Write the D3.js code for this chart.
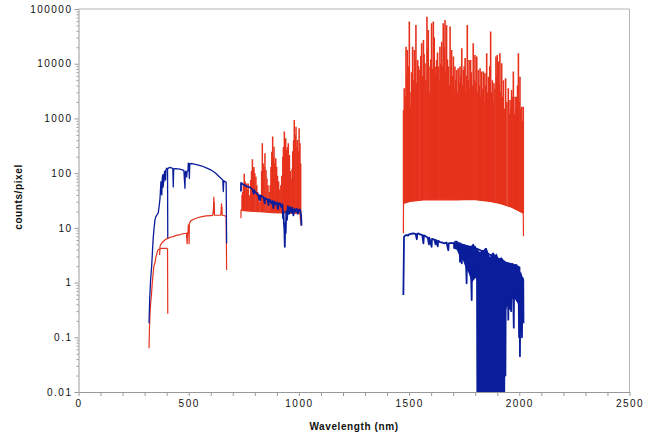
<!DOCTYPE html>
<html>
<head>
<meta charset="utf-8">
<script src="https://cdn.jsdelivr.net/npm/d3@7"></script>
<style>
  body { margin: 0; background: #fff; }
  text { font-family: "Liberation Sans", Arial, sans-serif; fill: #111; }
</style>
</head>
<body>
<svg id="plot" width="656" height="436"></svg>
<script>
// axis ticks
const xTicks = [0, 500, 1000, 1500, 2000, 2500];
const yTicks = [0.01, 0.1, 1, 10, 100, 1000, 10000, 100000];
const yTickLabels = ['0.01', '0.1', '1', '10', '100', '1000', '10000', '100000'];

// [wavelength nm, counts/pixel]
// blue (sky) spectrum
const blueUv = [[320, 0.18], [323, 0.5], [327, 1.1], [332, 2], [336, 4], [339, 6.5], [343, 10], [347, 14],
  [351, 16], [355, 17], [359, 18], [362, 19], [366, 25], [370, 35], [372, 50], [374, 70], [376, 45],
  [378, 40], [380, 80], [382, 93], [383, 55], [385, 61], [387, 95], [388, 70], [390, 107], [392, 85],
  [393, 110], [395, 75], [397, 115], [399, 118], [400, 123], [402, 122], [404, 120], [405, 6.5]];
const blueVis = [[405, 120], [410, 125], [415, 127], [420, 125], [428, 122], [430, 56], [432, 120],
  [440, 121], [450, 120], [460, 118], [470, 115], [478, 112], [483, 53], [485, 108], [490, 105],
  [491, 85], [493, 108], [497, 112], [498, 152], [501, 150], [503, 80], [505, 148], [510, 150],
  [520, 148], [540, 142], [560, 135], [580, 125], [600, 115], [620, 102], [640, 85], [650, 78],
  [655, 74], [657, 46], [659, 72], [665, 70], [670, 68], [672, 5.2]];
const blueNir = [[737, 46], [737.5, 66], [745, 63], [760, 58], [770, 56], [778, 55], [790, 50], [795, 42],
  [797, 49], [800, 46], [810, 42], [816, 40], [820, 33], [822, 39], [824, 32], [826, 39], [835, 37],
  [840, 36], [845, 28], [847, 35], [850, 34], [858, 33], [862, 26], [864, 33], [869, 32], [875, 28],
  [880, 31], [884, 23], [888, 30], [895, 27], [900, 29], [905, 22], [908, 28], [914, 28], [920, 24],
  [925, 27], [928, 15], [930, 20], [932, 12], [934, 9.5], [936, 4.5], [938, 12], [940, 8], [943, 20],
  [946, 14], [950, 25], [955, 18], [960, 24], [965, 19], [970, 23.5], [975, 17], [980, 22], [985, 20],
  [990, 22.5], [995, 18], [1000, 21.5], [1005, 21.5], [1008, 19], [1010, 17], [1012, 11]];
const blueSwir = [[1474, 0.59], [1476, 3], [1477, 6.9], [1482, 7.2], [1489, 7.4], [1495, 7.2], [1500, 7.6],
  [1510, 7.8], [1520, 7.9], [1530, 7.7], [1535, 6.2], [1537, 7.8], [1542, 7.9], [1550, 7.6], [1560, 7.4],
  [1565, 5.2], [1567, 7.3], [1575, 7], [1585, 6.6], [1590, 5], [1592, 6.6], [1602, 4.5], [1604, 6.3],
  [1615, 6.1], [1620, 5], [1622, 6], [1625, 5.8], [1630, 4.6], [1632, 5.8], [1640, 5.5], [1650, 5.4],
  [1660, 5.2], [1670, 5.4], [1678, 3.9], [1680, 5.2], [1690, 5.3], [1700, 5.2], [1710, 5.6], [1716, 5.6],
  [1722, 5.3], [1727, 3.5], [1729, 5.2], [1731, 2.4], [1733, 5.2], [1739, 2.25], [1741, 5], [1746, 3.2],
  [1748, 4.9], [1750, 4.9], [1754, 3], [1756, 4.8], [1761, 0.97], [1763, 4.7], [1770, 4.6], [1775, 2],
  [1778, 4.6], [1784, 0.48], [1786, 4.6], [1791, 4.9], [1795, 1.5], [1797, 4.6], [1799, 4.5], [1803, 2],
  [1805, 4.2], [1806, 4.2], [1935, 2.4], [1937, 0.02], [1939, 2.3], [1942, 1.2], [1944, 2.3], [1945, 0.5],
  [1947, 2.3], [1950, 0.21], [1952, 2.25], [1955, 0.6], [1957, 2.25], [1958, 0.33], [1960, 2.2],
  [1963, 0.3], [1965, 2.2], [1968, 0.8], [1970, 2.2], [1975, 0.15], [1977, 2.1], [1979, 0.6], [1981, 2.1],
  [1985, 0.8], [1987, 2.1], [1990, 2], [1993, 0.5], [1996, 1.95], [1999, 0.1], [2001, 1.9], [2003, 0.045],
  [2005, 1.5], [2008, 1.4], [2009, 0.3], [2011, 1.3], [2012, 0.1], [2014, 0.4], [2016, 1.2], [2018, 1.1],
  [2019, 0.18]];
// densely absorbed part: [nm, upper, lower]; the water band runs off the axis
const blueSwirFill = [[1700, 5.2, 4.2], [1716, 5.6, 4], [1730, 5.3, 3], [1745, 5, 2.5], [1758, 4.8, 1.8],
  [1770, 4.6, 1.5], [1785, 4.6, 1], [1800, 4.5, 1.2], [1804, 4.3, 1.2], [1806, 4.2, 0.001],
  [1814, 3.9, 0.001], [1822, 3.6, 0.001], [1830, 4, 0.001], [1837, 3.9, 0.001], [1845, 4.3, 0.001],
  [1852, 4.3, 0.001], [1860, 3.5, 0.001], [1867, 2.9, 0.001], [1875, 3.4, 0.001], [1882, 3.6, 0.001],
  [1890, 3.2, 0.001], [1897, 3.4, 0.001], [1905, 2.8, 0.001], [1912, 2.8, 0.001], [1920, 2.9, 0.001],
  [1928, 2.6, 0.001], [1935, 2.4, 0.001], [1937, 2.4, 0.3], [1950, 2.25, 0.4], [1965, 2.2, 0.5],
  [1980, 2.1, 0.5], [1995, 1.95, 0.4], [2005, 1.5, 0.5], [2018, 1.1, 0.4]];

// red (lamp) spectrum
const redUv = [[320, 0.063], [322, 0.15], [325, 0.3], [328, 0.45], [331, 0.6], [334, 0.9], [338, 1.4],
  [342, 2], [347, 2.3], [351, 2.9], [355, 3.3], [359, 3.8], [362, 4], [368, 4.1], [377, 4.2], [390, 4.2],
  [400, 4.2], [404, 4.1], [405, 0.27]];
const redVis = [[368, 3.2], [370, 4.6], [374, 5], [380, 5.4], [392, 6], [400, 6.3], [408, 6.5], [420, 6.8],
  [430, 6.9], [440, 7.2], [460, 7.5], [475, 7.8], [490, 8], [493, 5], [495, 8.1], [497, 8.2], [498, 11],
  [500, 11.5], [502, 5], [503, 12], [510, 13.5], [525, 14.5], [540, 15.3], [560, 16], [580, 16.5],
  [600, 16.7], [608, 16.8], [611, 19], [613, 25], [614, 37], [615, 18], [616, 30], [617, 17], [645, 17],
  [647, 20], [649, 28], [650, 18], [651, 24], [652, 17], [660, 16.8], [670, 16.2], [672, 1.7]];
const redNirBase = [[737, 15], [737.5, 21], [760, 20.5], [800, 20], [840, 19.5], [880, 19], [920, 18.8],
  [960, 18.6], [1005, 18.5], [1010, 11]];
const redNirLines = [[742, 40], [745, 45], [748, 60], [752, 97], [756, 70], [760, 55], [763, 65], [767, 50],
  [770, 65], [774, 40], [778, 35], [781, 75], [785, 110], [789, 180], [793, 120], [796, 130], [800, 100],
  [805, 86], [809, 60], [813, 45], [818, 35], [823, 30], [828, 40], [831, 110], [834, 350], [838, 150],
  [842, 130], [846, 230], [851, 114], [855, 80], [860, 60], [865, 45], [870, 60], [873, 130], [877, 247],
  [881, 465], [884, 200], [887, 305], [891, 150], [895, 187], [899, 131], [903, 90], [908, 70], [913, 50],
  [918, 60], [922, 90], [927, 200], [930, 300], [934, 574], [937, 350], [940, 434], [944, 265], [948, 300],
  [952, 351], [957, 215], [961, 110], [965, 80], [969, 120], [972, 250], [976, 400], [979, 940], [983, 500],
  [987, 708], [991, 300], [994, 404], [998, 250], [1001, 660], [1005, 351], [1008, 150]];
const redSwirBase = [[1474, 8], [1474.5, 28], [1504, 30.5], [1565, 32.5], [1640, 32.5], [1716, 32.5],
  [1790, 33], [1867, 30.5], [1912, 28], [1958, 24.5], [1988, 21.4], [2018, 18.6], [2019, 7]];
const redSwirLines = [[1475, 1430], [1478, 3550], [1482, 2500], [1486, 20500], [1489, 6000], [1492, 17900],
  [1495, 4000], [1498, 9000], [1501, 59000], [1504, 3000], [1507, 1640], [1511, 7000], [1516, 20500],
  [1520, 5000], [1524, 17900], [1527, 12000], [1531, 51000], [1535, 4500], [1539, 11700], [1543, 9000],
  [1549, 7700], [1553, 14000], [1557, 23700], [1561, 6000], [1565, 27000], [1568, 15000], [1572, 10200],
  [1576, 5000], [1581, 72000], [1584, 20000], [1587, 41500], [1591, 3000], [1595, 8850], [1598, 12000],
  [1602, 55000], [1606, 8000], [1610, 59000], [1614, 30000], [1618, 8850], [1621, 6000], [1625, 11700],
  [1629, 16000], [1633, 8850], [1636, 5000], [1640, 20500], [1644, 10000], [1648, 25300], [1651, 9000],
  [1655, 55000], [1659, 20000], [1663, 63000], [1666, 7000], [1670, 51000], [1674, 12000], [1678, 8850],
  [1682, 4000], [1686, 48000], [1689, 9000], [1693, 17900], [1697, 6000], [1701, 13600], [1704, 3500],
  [1708, 8850], [1712, 5000], [1716, 7700], [1719, 3000], [1723, 8260], [1727, 4500], [1731, 8850],
  [1734, 6000], [1739, 19100], [1742, 4000], [1746, 7700], [1750, 9000], [1754, 12700], [1757, 3000],
  [1761, 6000], [1764, 51000], [1768, 5000], [1772, 11700], [1775, 3500], [1779, 11700], [1783, 7000],
  [1787, 4000], [1791, 23700], [1795, 5000], [1799, 14500], [1803, 4500], [1807, 13600], [1810, 3000],
  [1814, 7700], [1818, 4000], [1822, 8260], [1825, 2500], [1829, 7180], [1833, 3500], [1837, 7180],
  [1840, 2000], [1844, 6700], [1848, 4000], [1852, 15600], [1855, 3000], [1860, 5800], [1863, 2500],
  [1866, 9000], [1870, 38600], [1874, 3000], [1878, 5000], [1881, 2000], [1885, 4380], [1889, 3500],
  [1894, 13600], [1897, 6000], [1900, 14500], [1905, 11000], [1908, 4000], [1912, 15600], [1916, 3000],
  [1920, 10200], [1923, 2500], [1928, 5000], [1933, 1500], [1938, 5400], [1944, 2000], [1950, 3550],
  [1954, 1200], [1958, 2180], [1961, 1500], [1965, 3300], [1969, 2500], [1973, 7180], [1977, 1200],
  [1981, 2500], [1984, 1500], [1988, 2500], [1992, 4000], [1996, 15600], [1999, 2000], [2003, 5800],
  [2007, 1500], [2011, 1640], [2014, 900], [2018, 1640]];

const blue = '#0a1e9c';
const red = '#e6321c';

main();

function main () {
  const svg = d3.select('svg#plot');
  const x = d3.scaleLinear().domain([0, 2500]).range([78.5, 629.5]);
  const y = d3.scaleLog().domain([0.01, 100000]).range([392, 9]);

  drawAxes(svg, x, y);

  svg.append('clipPath').attr('id', 'clip')
    .append('rect')
    .attr('x', x(0)).attr('y', y(100000))
    .attr('width', x(2500) - x(0)).attr('height', y(0.01) - y(100000));
  const g = svg.append('g').attr('clip-path', 'url(#clip)');

  const line = d3.line().x(d => x(d[0])).y(d => y(d[1]));

  // red first, blue drawn over it
  drawSpikes(g, x, y, redNirBase, redNirLines, 1.5);
  drawSpikes(g, x, y, redSwirBase, redSwirLines, 1.6);
  [redUv, redVis, redNirBase, redSwirBase].forEach(s => {
    g.append('path').attr('d', line(s))
      .attr('fill', 'none').attr('stroke', red).attr('stroke-width', 1.2);
  });

  const band = d3.area().x(d => x(d[0])).y0(d => y(d[2])).y1(d => y(d[1]));
  g.append('path').attr('d', band(blueSwirFill)).attr('fill', blue);
  [blueUv, blueVis].forEach(s => {
    g.append('path').attr('d', line(s))
      .attr('fill', 'none').attr('stroke', blue).attr('stroke-width', 1.3)
      .attr('stroke-linejoin', 'round');
  });
  [blueNir, blueSwir].forEach(s => {
    g.append('path').attr('d', line(s))
      .attr('fill', 'none').attr('stroke', blue).attr('stroke-width', 1.8)
      .attr('stroke-linejoin', 'round');
  });
}

// emission lines standing on a continuum
function drawSpikes (g, x, y, base, lines, width) {
  const baseAt = d3.scaleLinear().domain(base.map(d => d[0])).range(base.map(d => d[1]));
  lines.forEach(d => {
    g.append('line')
      .attr('x1', x(d[0])).attr('x2', x(d[0]))
      .attr('y1', y(baseAt(d[0]))).attr('y2', y(d[1]))
      .attr('stroke', red).attr('stroke-width', width);
  });
}

function drawAxes (svg, x, y) {
  const x0 = x(0), x1 = x(2500), y0 = y(0.01), y1 = y(100000);
  // frame (top and right)
  svg.append('path')
    .attr('d', `M${x0},${y1}H${x1}V${y0}`)
    .attr('fill', 'none').attr('stroke', '#b4b4b4').attr('stroke-width', 1);

  const xAxis = svg.append('g').attr('transform', `translate(0,${y0})`)
    .call(d3.axisBottom(x).tickValues(d3.range(0, 2501, 100)).tickSize(4).tickSizeOuter(0)
      .tickFormat(d => xTicks.includes(d) ? d : ''));
  xAxis.select('.domain').attr('stroke', '#999');
  xAxis.selectAll('.tick line').attr('stroke', '#999');
  xAxis.selectAll('.tick text').attr('y', 15).attr('dy', 0)
    .style('font-size', '10px').style('letter-spacing', '1.5px')
    .style('font-family', '"Liberation Sans", Arial, sans-serif').attr('fill', '#111');

  const minor = [];
  yTicks.slice(0, -1).forEach(t => [2, 3, 4, 5, 6, 7, 8, 9].forEach(k => minor.push(t * k)));
  const yMinor = svg.append('g').attr('transform', `translate(${x0},0)`)
    .call(d3.axisLeft(y).tickValues(minor).tickSize(2).tickFormat(''));
  yMinor.select('.domain').remove();
  yMinor.selectAll('.tick line').attr('stroke', '#999');

  const yAxis = svg.append('g').attr('transform', `translate(${x0},0)`)
    .call(d3.axisLeft(y).tickValues(yTicks).tickSize(4).tickSizeOuter(0)
      .tickFormat((d, i) => yTickLabels[i]));
  yAxis.select('.domain').attr('stroke', '#999');
  yAxis.selectAll('.tick line').attr('stroke', '#999');
  yAxis.selectAll('.tick text').attr('x', -6)
    .style('font-size', '10px').style('letter-spacing', '1.5px')
    .style('font-family', '"Liberation Sans", Arial, sans-serif').attr('fill', '#111');

  svg.append('text').text('Wavelength (nm)')
    .attr('x', (x0 + x1) / 2).attr('y', 430)
    .attr('text-anchor', 'middle')
    .style('font-size', '10px').style('font-weight', 'bold').style('letter-spacing', '0.6px');
  svg.append('text').text('counts/pixel')
    .attr('transform', 'translate(22,197) rotate(-90)')
    .attr('text-anchor', 'middle')
    .style('font-size', '10px').style('font-weight', 'bold').style('letter-spacing', '0.6px');
}
</script>
</body>
</html>
